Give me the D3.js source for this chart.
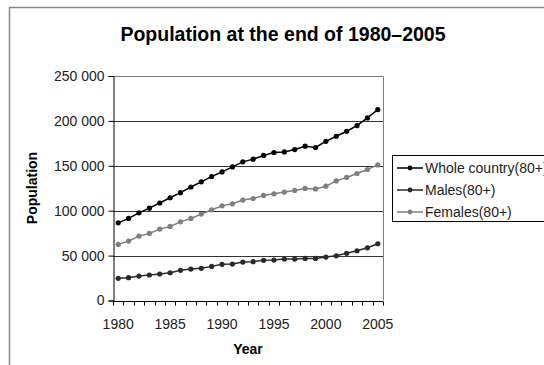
<!DOCTYPE html>
<html>
<head>
<meta charset="utf-8">
<script src="https://cdn.jsdelivr.net/npm/d3@7"></script>
<style>
  body { margin: 0; background: #fff; }
  svg { display: block; font-family: "Liberation Sans", Arial, sans-serif; }
</style>
</head>
<body>
<div id="chart"></div>
<script>
/**
 * chart data
 */
const years = d3.range(1980, 2006);
const yearLabels = [1980, 1985, 1990, 1995, 2000, 2005];
const yTicks = [0, 50000, 100000, 150000, 200000, 250000];

const wholeCountry = [86500, 91400, 97600, 102800, 108600, 114400, 120100, 126400, 132100, 138100,
    143200, 148800, 154400, 157400, 161500, 164800, 165500, 168100, 171800, 170400,
    177200, 182900, 188500, 194800, 203300, 212600];
const males = [24700, 25400, 27200, 28400, 29500, 30900, 33600, 35000, 35800, 38000,
    40300, 40600, 42800, 43200, 44700, 45000, 46100, 46100, 46900, 46900,
    48400, 49800, 52500, 55400, 58700, 63200];
const females = [62500, 66200, 71700, 74700, 79500, 82500, 87600, 91400, 96200, 101000,
    105400, 107700, 111800, 113600, 117000, 118800, 120700, 122600, 124800, 124300,
    127300, 133200, 137000, 141400, 145900, 151000];

const seriesNames = ["Whole country(80+)", "Males(80+)", "Females(80+)"];
const seriesColors = ["#000000", "#2a2a2a", "#7f7f7f"];

/**
 * constants
 */
const WIDTH = 544;
const HEIGHT = 365;
const PLOT = { left: 113, right: 383, top: 76, bottom: 300.5 };

const svg = d3.select("#chart").append("svg")
    .attr("width", WIDTH)
    .attr("height", HEIGHT);

svg.append("rect").attr("width", WIDTH).attr("height", HEIGHT).attr("fill", "#fff");

// outer chart frame (runs off the right and bottom)
svg.append("path")
    .attr("d", `M9.5,${HEIGHT + 5} V7.5 H${WIDTH + 5}`)
    .attr("fill", "none")
    .attr("stroke", "#8a8a8a")
    .attr("stroke-width", 1.5);

const x = d3.scaleBand()
    .domain(years)
    .range([PLOT.left, PLOT.right]);

const y = d3.scaleLinear()
    .domain([0, 250000])
    .range([PLOT.bottom, PLOT.top]);

const fmt = d => d3.format(",")(d).replace(/,/g, " ");

// gridlines
svg.append("g")
    .selectAll("line")
    .data(yTicks.slice(1, -1))
    .enter()
    .append("line")
    .attr("x1", PLOT.left)
    .attr("x2", PLOT.right)
    .attr("y1", d => Math.round(y(d)) + 0.5)
    .attr("y2", d => Math.round(y(d)) + 0.5)
    .attr("stroke", "#333");

// plot area border (top + right)
svg.append("path")
    .attr("d", `M${PLOT.left},${Math.round(PLOT.top) + 0.5} H${PLOT.right + 0.5} V${PLOT.bottom}`)
    .attr("fill", "none")
    .attr("stroke", "#808080");

// y axis
const yAxis = svg.append("g")
    .attr("transform", `translate(${PLOT.left + 0.5},0)`)
    .call(d3.axisLeft(y).tickValues(yTicks).tickFormat(fmt).tickSize(5).tickPadding(4));
yAxis.selectAll("text").attr("font-size", 14).attr("fill", "#222").attr("font-family", null);
yAxis.selectAll("line, path").attr("stroke", "#000");

// x axis: ticks between categories, labels on centres
const xAxis = svg.append("g")
    .attr("transform", `translate(0,${Math.round(PLOT.bottom) + 0.5})`);
xAxis.append("line")
    .attr("x1", PLOT.left)
    .attr("x2", PLOT.right)
    .attr("stroke", "#000");
xAxis.selectAll(".tk")
    .data(d3.range(years.length + 1))
    .enter()
    .append("line")
    .attr("class", "tk")
    .attr("x1", i => Math.round(PLOT.left + i * x.bandwidth()) + 0.5)
    .attr("x2", i => Math.round(PLOT.left + i * x.bandwidth()) + 0.5)
    .attr("y1", 0)
    .attr("y2", 4)
    .attr("stroke", "#000");
xAxis.selectAll("text")
    .data(yearLabels)
    .enter()
    .append("text")
    .attr("x", d => x(d) + x.bandwidth() / 2)
    .attr("y", 27)
    .attr("text-anchor", "middle")
    .attr("font-size", 14)
    .attr("fill", "#222")
    .text(d => d);

// titles
svg.append("text")
    .attr("x", 283)
    .attr("y", 41)
    .attr("text-anchor", "middle")
    .attr("font-size", 19.5)
    .attr("font-weight", "bold")
    .text("Population at the end of 1980\u20132005");

svg.append("text")
    .attr("x", 248)
    .attr("y", 354)
    .attr("text-anchor", "middle")
    .attr("font-size", 14)
    .attr("font-weight", "bold")
    .text("Year");

svg.append("text")
    .attr("transform", "translate(37,188) rotate(-90)")
    .attr("text-anchor", "middle")
    .attr("font-size", 14)
    .attr("font-weight", "bold")
    .text("Population");

// series
const seriesData = [wholeCountry, males, females];
const line = d3.line()
    .x((d, i) => x(years[i]) + x.bandwidth() / 2)
    .y(d => y(d));

const order = [2, 1, 0];
order.forEach(k => {
    const g = svg.append("g");
    g.append("path")
        .datum(seriesData[k])
        .attr("d", line)
        .attr("fill", "none")
        .attr("stroke", seriesColors[k])
        .attr("stroke-width", 1.5);
    g.selectAll("circle")
        .data(seriesData[k])
        .enter()
        .append("circle")
        .attr("cx", (d, i) => x(years[i]) + x.bandwidth() / 2)
        .attr("cy", d => y(d))
        .attr("r", 2.6)
        .attr("fill", seriesColors[k]);
});

// legend (box and first label run off the right edge, as in the original)
const legend = svg.append("g");
legend.append("rect")
    .attr("x", 392.5)
    .attr("y", 155.5)
    .attr("width", 200)
    .attr("height", 66)
    .attr("fill", "#fff")
    .attr("stroke", "#000");

const items = legend.selectAll(".item")
    .data(seriesNames)
    .enter()
    .append("g")
    .attr("transform", (d, i) => `translate(0,${168 + i * 22})`);
items.append("line")
    .attr("x1", 397)
    .attr("x2", 423)
    .attr("stroke", (d, i) => seriesColors[i])
    .attr("stroke-width", 1.5);
items.append("circle")
    .attr("cx", 410)
    .attr("r", 2.4)
    .attr("fill", (d, i) => seriesColors[i]);
items.append("text")
    .attr("x", 425)
    .attr("y", 5)
    .attr("font-size", 14)
    .attr("fill", "#222")
    .text(d => d);
</script>
</body>
</html>
